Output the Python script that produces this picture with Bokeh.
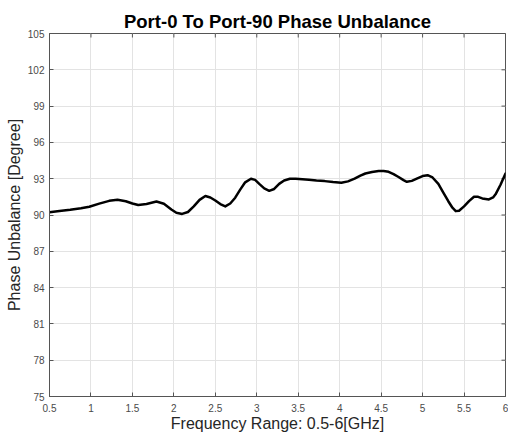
import math
from bokeh.plotting import figure
from bokeh.models import FixedTicker, Range1d
from bokeh.embed import file_html
from bokeh.resources import INLINE

title_text = "Port-0 To Port-90 Phase Unbalance"
x_label = "Frequency Range: 0.5-6[GHz]"
y_label = "Phase Unbalance [Degree]"

x_ticks = [0.5, 1, 1.5, 2, 2.5, 3, 3.5, 4, 4.5, 5, 5.5, 6]
y_ticks = [75, 78, 81, 84, 87, 90, 93, 96, 99, 102, 105]

freq = [0.50, 0.62, 0.75, 0.88, 0.98, 1.10, 1.22, 1.32, 1.42, 1.50, 1.57, 1.67,
        1.79, 1.88, 1.97, 2.03, 2.10, 2.17, 2.24, 2.31, 2.38, 2.44, 2.50, 2.56,
        2.62, 2.68, 2.74, 2.80, 2.86, 2.93, 2.98, 3.03, 3.09, 3.15, 3.21, 3.27,
        3.33, 3.40, 3.47, 3.55, 3.63, 3.72, 3.82, 3.92, 4.02, 4.10, 4.18, 4.25,
        4.31, 4.39, 4.47, 4.53, 4.59, 4.65, 4.71, 4.77, 4.81, 4.87, 4.93, 5.00,
        5.06, 5.12, 5.19, 5.25, 5.31, 5.36, 5.40, 5.44, 5.50, 5.56, 5.62, 5.67,
        5.72, 5.80, 5.85, 5.88, 5.94, 6.00]
phase = [90.23, 90.33, 90.43, 90.55, 90.68, 90.94, 91.17, 91.26, 91.14, 90.95, 90.82, 90.91,
         91.11, 90.93, 90.45, 90.18, 90.09, 90.25, 90.71, 91.25, 91.57, 91.45, 91.20, 90.90,
         90.71, 90.95, 91.43, 92.10, 92.70, 93.00, 92.90, 92.57, 92.20, 92.00, 92.15, 92.57,
         92.85, 93.00, 93.00, 92.95, 92.91, 92.85, 92.80, 92.72, 92.66, 92.78, 93.00, 93.25,
         93.43, 93.55, 93.63, 93.63, 93.57, 93.38, 93.14, 92.88, 92.74, 92.82, 93.00, 93.22,
         93.29, 93.10, 92.57, 91.85, 91.14, 90.60, 90.32, 90.35, 90.71, 91.15, 91.51, 91.50,
         91.37, 91.29, 91.45, 91.71, 92.50, 93.43]

FONT = "Liberation Sans"
FRAME = "#555555"
TXT = "#4a4a4a"

x_min, x_max = x_ticks[0], x_ticks[-1]
y_min, y_max = y_ticks[0], y_ticks[-1]

p = figure(width=508, height=438, output_backend="svg", toolbar_location=None,
           x_range=Range1d(x_min, x_max), y_range=Range1d(y_min, y_max),
           min_border_left=49, min_border_right=3, min_border_top=33, min_border_bottom=42,
           x_axis_label=x_label, y_axis_label=y_label)

p.title.text = title_text
p.title.align = "center"
p.title.text_font = FONT
p.title.text_font_size = "18.5px"
p.title.text_font_style = "bold"
p.title.text_color = "#000000"
p.title.standoff = 4
p.title.offset = 0

p.outline_line_color = FRAME
p.outline_line_width = 1
p.background_fill_color = "white"
p.border_fill_color = "white"

for ax in (p.xaxis[0], p.yaxis[0]):
    ax.major_tick_in = 4
    ax.major_tick_out = 0
    ax.minor_tick_line_color = None
    ax.axis_line_color = FRAME
    ax.major_tick_line_color = FRAME
    ax.major_label_text_font = FONT
    ax.major_label_text_font_size = "10px"
    ax.major_label_text_color = TXT
    ax.axis_label_text_font = FONT
    ax.axis_label_text_font_size = "16px"
    ax.axis_label_text_font_style = "normal"
    ax.axis_label_text_color = "#262626"

p.xaxis[0].ticker = FixedTicker(ticks=x_ticks)
p.yaxis[0].ticker = FixedTicker(ticks=y_ticks)
p.xaxis[0].major_label_standoff = 7
p.xaxis[0].axis_label_standoff = 0
p.yaxis[0].major_label_standoff = 5
p.yaxis[0].axis_label_standoff = 2

p.xgrid.ticker = FixedTicker(ticks=x_ticks)
p.ygrid.ticker = FixedTicker(ticks=y_ticks)
p.grid.grid_line_color = "#e3e3e3"
p.grid.grid_line_width = 1

# inner tick marks on the top and right edges of the box (half of each dash is clipped)
p.scatter(x=x_ticks, y=[y_max] * len(x_ticks), marker="dash", angle=math.pi / 2,
          size=8, line_color=FRAME, line_width=1)
p.scatter(x=[x_max] * len(y_ticks), y=y_ticks, marker="dash",
          size=8, line_color=FRAME, line_width=1)

p.line(freq, phase, line_color="black", line_width=2.5, line_join="round", line_cap="round")

open("out.html", "w").write(file_html(p, INLINE))
